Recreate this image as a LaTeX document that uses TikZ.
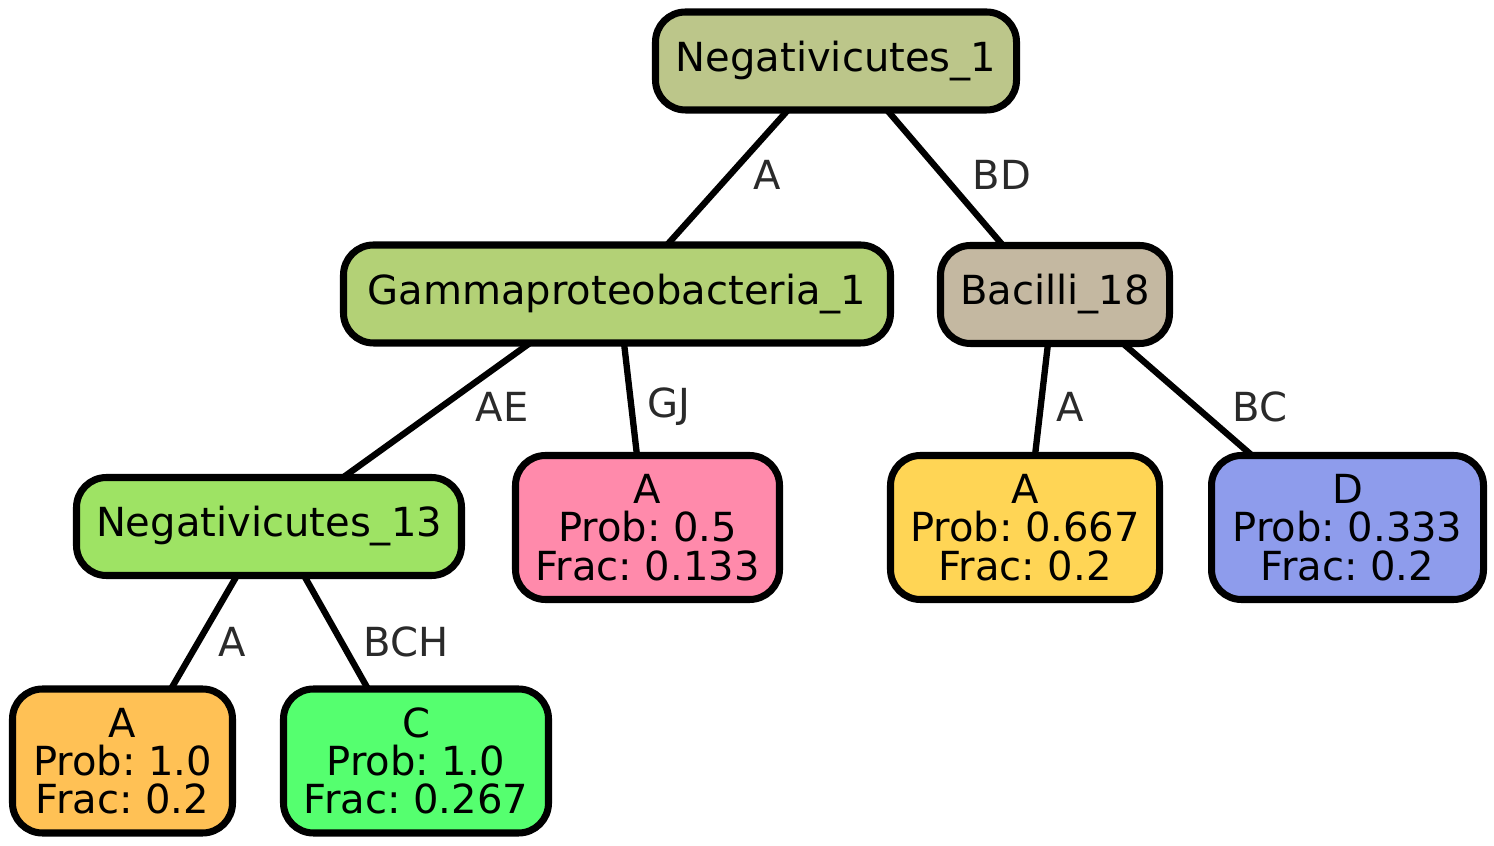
\documentclass[tikz,border=0pt]{standalone}
\usepackage{fontspec}
\setmainfont{DejaVu Sans}
\usepackage{tikz}
\usetikzlibrary{positioning}
\frenchspacing

\definecolor{negone}{HTML}{BCC68A}
\definecolor{gammaone}{HTML}{B3D176}
\definecolor{bacilli}{HTML}{C4B8A1}
\definecolor{negthirteen}{HTML}{9EE364}
\definecolor{leafpink}{HTML}{FF8AAB}
\definecolor{leafyellow}{HTML}{FFD555}
\definecolor{leafblue}{HTML}{8E9CEC}
\definecolor{leaforange}{HTML}{FFC155}
\definecolor{leafgreen}{HTML}{55FF6F}
\definecolor{labelgray}{HTML}{2A2A2A}

\tikzset{
taxon/.style={draw=black,line width=4pt,rounded corners=0.6cm,minimum height=1.96cm,inner sep=0pt,outer sep=0pt,font=\fontsize{22.8}{21.8}\selectfont,align=center},
leaf/.style={taxon,minimum height=2.88cm},
branch/.style={draw=black,line width=3.6pt},
edgelabel/.style={font=\fontsize{22.8}{21.8}\selectfont,text=labelgray,inner sep=0pt}
}

\begin{document}
\begin{tikzpicture}
\useasboundingbox (0,0) rectangle (29.88,16.92);

\node[taxon,fill=negone,minimum width=7.22cm] (neg1) at (16.72,15.70) {Negativicutes\_1};
\node[taxon,fill=gammaone,minimum width=10.94cm] (gamma1) at (12.34,11.04) {Gammaproteobacteria\_1};
\node[taxon,fill=bacilli,minimum width=4.58cm] (bac18) at (21.10,11.03) {Bacilli\_18};
\node[taxon,fill=negthirteen,minimum width=7.70cm] (neg13) at (5.38,6.39) {Negativicutes\_13};

\node[leaf,fill=leafpink,minimum width=5.28cm] (leafgj) at (12.95,6.37) {A\\Prob: 0.5\\Frac: 0.133};
\node[leaf,fill=leafyellow,minimum width=5.38cm] (leafa) at (20.50,6.37) {A\\Prob: 0.667\\Frac: 0.2};
\node[leaf,fill=leafblue,minimum width=5.44cm] (leafbc) at (26.95,6.37) {D\\Prob: 0.333\\Frac: 0.2};
\node[leaf,fill=leaforange,minimum width=4.40cm] (leafna) at (2.45,1.70) {A\\Prob: 1.0\\Frac: 0.2};
\node[leaf,fill=leafgreen,minimum width=5.30cm] (leafbch) at (8.32,1.70) {C\\Prob: 1.0\\Frac: 0.267};

\draw[branch] ([xshift=-0.96cm]neg1.south) -- ([xshift=1.00cm]gamma1.north);
\draw[branch] ([xshift=1.02cm]neg1.south) -- ([xshift=-1.04cm]bac18.north);
\draw[branch] ([xshift=-1.74cm]gamma1.south) -- ([xshift=1.48cm]neg13.north);
\draw[branch] ([xshift=0.14cm]gamma1.south) -- ([xshift=-0.21cm]leafgj.north);
\draw[branch] ([xshift=-0.14cm]bac18.south) -- ([xshift=0.20cm]leafa.north);
\draw[branch] ([xshift=1.36cm]bac18.south) -- ([xshift=-1.91cm]leafbc.north);
\draw[branch] ([xshift=-0.64cm]neg13.south) -- ([xshift=0.97cm]leafna.north);
\draw[branch] ([xshift=0.70cm]neg13.south) -- ([xshift=-0.96cm]leafbch.north);

\node[edgelabel] (lbla) at (15.34,13.42) {A};
\node[edgelabel] (lblbd) at (20.04,13.42) {BD};
\node[edgelabel] (lblae) at (10.04,8.78) {AE};
\node[edgelabel] (lblgj) at (13.38,8.78) {GJ};
\node[edgelabel] (lblba) at (21.40,8.78) {A};
\node[edgelabel] (lblbc) at (25.20,8.78) {BC};
\node[edgelabel] (lblna) at (4.64,4.08) {A};
\node[edgelabel] (lblbch) at (8.12,4.08) {BCH};

\end{tikzpicture}
\end{document}
